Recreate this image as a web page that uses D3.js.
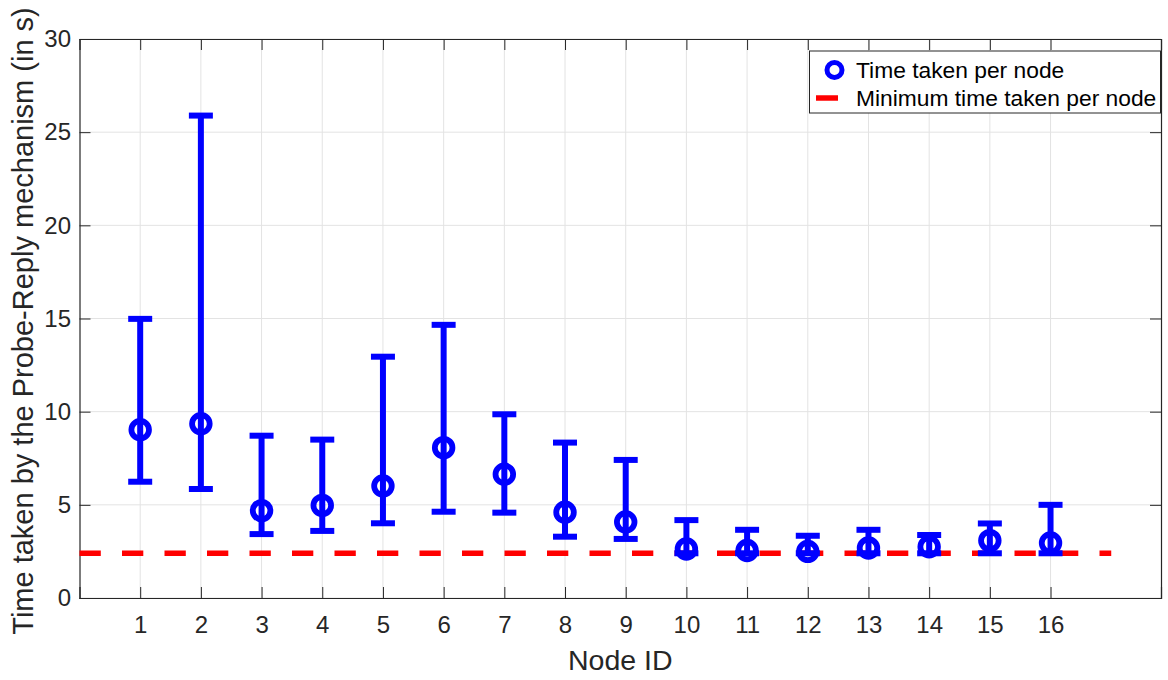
<!DOCTYPE html>
<html>
<head>
<meta charset="utf-8">
<script src="https://cdn.jsdelivr.net/npm/d3@7"></script>
<style>
  body { margin: 0; background: #fff; }
  svg { display: block; font-family: "Liberation Sans", Arial, sans-serif; }
</style>
</head>
<body>
<svg id="chart" width="1168" height="680"></svg>
<script>
// node ids and the measured times (s)
const nodes = [1, 2, 3, 4, 5, 6, 7, 8, 9, 10, 11, 12, 13, 14, 15, 16];
const meanTime = [9.03, 9.35, 4.69, 4.97, 6.01, 8.07, 6.64, 4.6, 4.08, 2.63, 2.55, 2.5, 2.68, 2.75, 3.08, 2.95];
const lowTime = [6.24, 5.85, 3.43, 3.6, 4.01, 4.63, 4.58, 3.29, 3.17, 2.4, 2.4, 2.4, 2.4, 2.4, 2.4, 2.4];
const highTime = [14.98, 25.89, 8.71, 8.5, 12.95, 14.66, 9.86, 8.34, 7.41, 4.18, 3.66, 3.34, 3.66, 3.38, 4.0, 5.0];
const minTime = 2.4;
const minSpan = [0, 17];
const yTicks = [0, 5, 10, 15, 20, 25, 30];
const legendLabels = ['Time taken per node', 'Minimum time taken per node'];

const margin = { left: 79.5, right: 7, top: 39, bottom: 82 };
const W = 1168, H = 680;
const svg = d3.select('#chart');

const x = d3.scaleLinear().domain([0, 17.82]).range([margin.left, W - margin.right]);
const y = d3.scaleLinear().domain([0, 30]).range([H - margin.bottom, margin.top]);

const axisColor = '#262626';
const gridColor = '#e3e3e3';
const blue = '#0000ff', red = '#ff0000';
const tickFont = 24;

// grid
const g = svg.append('g');
g.selectAll('.vgrid').data(nodes).join('line')
    .attr('x1', d => x(d)).attr('x2', d => x(d))
    .attr('y1', y(0)).attr('y2', y(30))
    .attr('stroke', gridColor).attr('stroke-width', 1);
g.selectAll('.hgrid').data(yTicks).join('line')
    .attr('x1', x.range()[0]).attr('x2', x.range()[1])
    .attr('y1', d => y(d)).attr('y2', d => y(d))
    .attr('stroke', gridColor).attr('stroke-width', 1);

// axes (ticks inside, box on)
const tickLen = 11;
const xAxisB = d3.axisBottom(x).tickValues(nodes).tickSize(-tickLen).tickPadding(18).tickFormat(d3.format('d'));
const xAxisT = d3.axisTop(x).tickValues(nodes).tickSize(-tickLen).tickFormat('');
const yAxisL = d3.axisLeft(y).tickValues(yTicks).tickSize(-tickLen).tickPadding(8.5);
const yAxisR = d3.axisRight(y).tickValues(yTicks).tickSize(-tickLen).tickFormat('');

function style(sel) {
    sel.attr('font-size', null).attr('font-family', null);
    sel.select('.domain').attr('stroke', axisColor).attr('stroke-width', 1.2);
    sel.selectAll('.tick line').attr('stroke', axisColor).attr('stroke-width', 1);
    sel.selectAll('.tick text').attr('fill', axisColor).style('font-size', tickFont + 'px');
}
svg.append('g').attr('transform', `translate(0,${y(0)})`).call(xAxisB).call(style);
svg.append('g').attr('transform', `translate(0,${y(30)})`).call(xAxisT).call(style);
svg.append('g').attr('transform', `translate(${x(0)},0)`).call(yAxisL).call(style);
svg.append('g').attr('transform', `translate(${x.range()[1]},0)`).call(yAxisR).call(style);

// minimum dashed line
svg.append('line')
    .attr('x1', x(minSpan[0])).attr('x2', x(minSpan[1]))
    .attr('y1', y(minTime)).attr('y2', y(minTime))
    .attr('stroke', red).attr('stroke-width', 5.5)
    .attr('stroke-dasharray', '21.3,21.2');

// error bars
const capW = 12;
const eb = svg.append('g').attr('stroke', blue).attr('stroke-width', 6).attr('fill', 'none');
eb.selectAll('.v').data(nodes).join('line')
    .attr('x1', d => x(d)).attr('x2', d => x(d))
    .attr('y1', (d, i) => y(lowTime[i])).attr('y2', (d, i) => y(highTime[i]));
eb.selectAll('.hi').data(nodes).join('line')
    .attr('x1', d => x(d) - capW).attr('x2', d => x(d) + capW)
    .attr('y1', (d, i) => y(highTime[i])).attr('y2', (d, i) => y(highTime[i]));
eb.selectAll('.lo').data(nodes).join('line')
    .attr('x1', d => x(d) - capW).attr('x2', d => x(d) + capW)
    .attr('y1', (d, i) => y(lowTime[i])).attr('y2', (d, i) => y(lowTime[i]));
eb.selectAll('circle').data(nodes).join('circle')
    .attr('cx', d => x(d)).attr('cy', (d, i) => y(meanTime[i]))
    .attr('r', 8.8).attr('stroke-width', 5.8);

// axis labels
svg.append('text')
    .attr('x', (x.range()[0] + x.range()[1]) / 2).attr('y', 670)
    .attr('text-anchor', 'middle').attr('fill', axisColor)
    .style('font-size', '28.5px').text('Node ID');
svg.append('text')
    .attr('transform', 'translate(33,321) rotate(-90)')
    .attr('text-anchor', 'middle').attr('fill', axisColor)
    .style('font-size', '29px').text('Time taken by the Probe-Reply mechanism (in s)');

// legend
const lg = svg.append('g');
lg.append('rect').attr('x', 809.5).attr('y', 51).attr('width', 351).attr('height', 62)
    .attr('fill', '#fff').attr('stroke', axisColor).attr('stroke-width', 1);
lg.append('circle').attr('cx', 834.5).attr('cy', 70).attr('r', 7.5)
    .attr('fill', 'none').attr('stroke', blue).attr('stroke-width', 5);
lg.append('line').attr('x1', 816).attr('x2', 838).attr('y1', 98).attr('y2', 98)
    .attr('stroke', red).attr('stroke-width', 5.5);
lg.selectAll('text').data(legendLabels).join('text')
    .attr('x', 856).attr('y', (d, i) => 78 + i * 28)
    .attr('fill', '#000').style('font-size', '22.8px').text(d => d);
</script>
</body>
</html>
